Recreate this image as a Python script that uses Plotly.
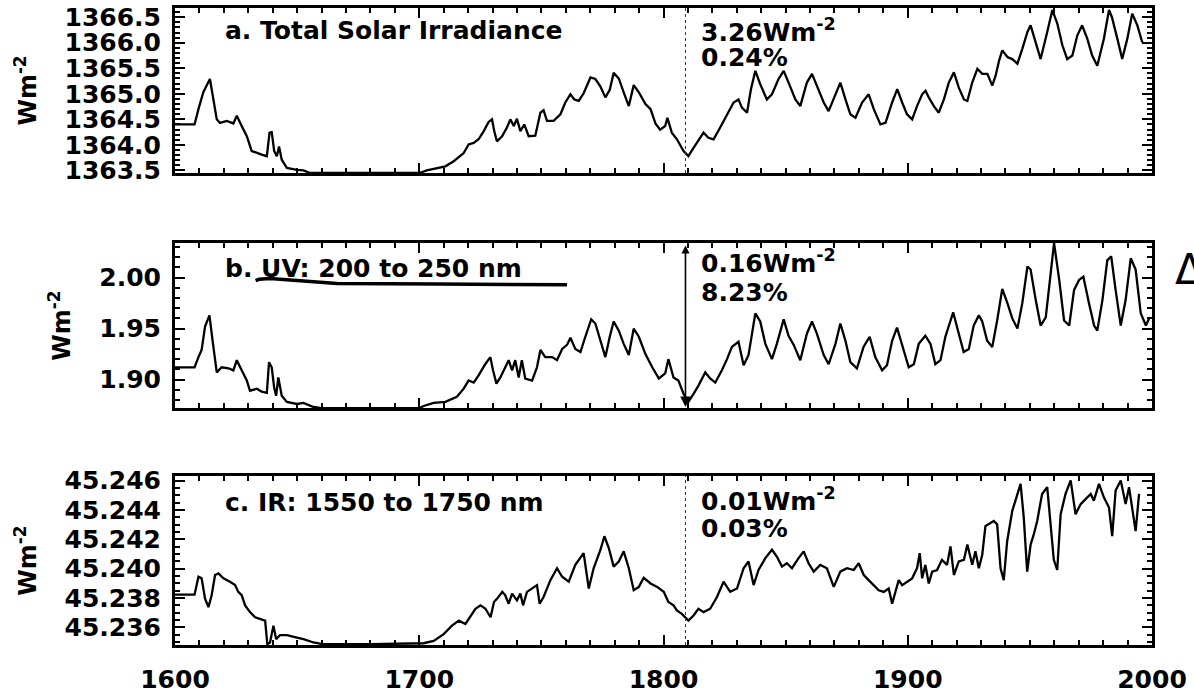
import plotly.graph_objects as go

# ---------------- data ----------------
years_a = [1600, 1608, 1609.6, 1611.6, 1614.3, 1615.7, 1617.1, 1618.4, 1621.2, 1623.9, 1625.3, 1627.3,
           1629.4, 1631.4, 1633.5, 1635.5, 1637.6, 1638.7, 1639.6, 1640.6, 1641.7, 1642.6, 1643.7, 1645.8,
           1649.9, 1652.6, 1655.3, 1660, 1680, 1700, 1703.1, 1707.2, 1710.7, 1714.1, 1718.2, 1720.2,
           1722.3, 1724.3, 1726.4, 1728.4, 1729.8, 1730.7, 1731.8, 1733.9, 1735.9, 1737.3, 1738.7, 1740.0,
           1741.4, 1743.0, 1744.8, 1747.5, 1749.6, 1750.9, 1752.3, 1755.0, 1757.8, 1759.8, 1761.9, 1763.5,
           1765.3, 1767.3, 1770.1, 1772.1, 1774.2, 1776.2, 1778.0, 1779.6, 1781.7, 1783.7, 1785.8, 1787.8,
           1789.9, 1792.6, 1794.7, 1796.7, 1798.6, 1800.7, 1801.6, 1803.4, 1805.5, 1808.2, 1810.2, 1812.3,
           1816.4, 1818.4, 1820.5, 1823.2, 1826.0, 1828.7, 1830.7, 1832.1, 1834.2, 1835.8, 1837.6, 1839.6,
           1842.3, 1844.4, 1847.1, 1849.2, 1851.2, 1854.0, 1856.0, 1858.7, 1860.8, 1862.8, 1865.6, 1867.6,
           1869.7, 1872.4, 1874.5, 1876.5, 1878.6, 1881.3, 1884.0, 1886.1, 1888.8, 1890.9, 1893.6, 1895.7,
           1897.7, 1899.7, 1901.8, 1903.8, 1905.9, 1907.3, 1908.6, 1910.7, 1912.7, 1914.8, 1916.8, 1918.9,
           1920.9, 1923.0, 1924.4, 1926.4, 1928.5, 1930.5, 1932.6, 1934.6, 1936.0, 1937.4, 1938.7, 1940.8,
           1942.8, 1944.9, 1946.9, 1949.0, 1950.3, 1952.4, 1954.4, 1957.1, 1959.2, 1961.2, 1963.3, 1965.3,
           1967.4, 1969.4, 1971.4, 1973.5, 1975.5, 1977.6, 1980.3, 1982.4, 1983.6, 1985.8, 1987.8, 1989.9,
           1991.9, 1994.0, 1996.0]
tsi = [1364.40, 1364.40, 1364.70, 1365.03, 1365.29, 1364.89, 1364.50, 1364.43, 1364.47, 1364.42, 1364.57, 1364.37,
       1364.17, 1363.88, 1363.84, 1363.81, 1363.78, 1364.24, 1364.25, 1363.88, 1363.78, 1363.97, 1363.71, 1363.55,
       1363.51, 1363.50, 1363.45, 1363.45, 1363.45, 1363.45, 1363.50, 1363.55, 1363.58, 1363.68, 1363.84, 1364.01,
       1364.04, 1364.11, 1364.27, 1364.45, 1364.50, 1364.27, 1364.07, 1364.17, 1364.34, 1364.50, 1364.37, 1364.51,
       1364.27, 1364.40, 1364.17, 1364.18, 1364.63, 1364.68, 1364.47, 1364.47, 1364.60, 1364.83, 1364.99, 1364.89,
       1364.86, 1365.01, 1365.32, 1365.29, 1365.14, 1364.93, 1365.08, 1365.41, 1365.30, 1365.03, 1364.76, 1365.17,
       1365.03, 1364.80, 1364.70, 1364.42, 1364.30, 1364.37, 1364.53, 1364.24, 1364.11, 1363.88, 1363.78, 1363.94,
       1364.24, 1364.14, 1364.11, 1364.34, 1364.60, 1364.83, 1364.89, 1364.73, 1364.63, 1365.09, 1365.45, 1365.19,
       1364.89, 1364.99, 1365.29, 1365.45, 1365.22, 1364.89, 1364.76, 1365.22, 1365.39, 1365.16, 1364.83, 1364.66,
       1364.89, 1365.22, 1364.89, 1364.60, 1364.53, 1364.83, 1364.99, 1364.70, 1364.40, 1364.43, 1364.83, 1365.09,
       1364.83, 1364.60, 1364.50, 1364.76, 1364.99, 1365.06, 1364.93, 1364.76, 1364.63, 1364.89, 1365.22, 1365.42,
       1365.12, 1364.89, 1364.86, 1365.22, 1365.49, 1365.39, 1365.39, 1365.16, 1365.36, 1365.65, 1365.85, 1365.72,
       1365.68, 1365.59, 1365.88, 1366.21, 1366.34, 1366.01, 1365.68, 1366.21, 1366.64, 1366.38, 1365.95, 1365.68,
       1365.75, 1366.14, 1366.34, 1366.08, 1365.75, 1365.55, 1366.08, 1366.64, 1366.50, 1366.08, 1365.68, 1366.08,
       1366.57, 1366.34, 1366.01]

years_b = [1600, 1608, 1609.6, 1610.9, 1612.3, 1614.1, 1615.4, 1617.1, 1619.1, 1621.9, 1623.9, 1625.3, 1627.3,
           1629.4, 1630.7, 1633.5, 1635.5, 1637.6, 1638.5, 1639.6, 1640.6, 1641.4, 1642.3, 1643.7, 1645.8,
           1649.9, 1652.6, 1656.7, 1660, 1680, 1700, 1701.8, 1705.9, 1710.7, 1715.4, 1718.2, 1720.2, 1722.3,
           1724.3, 1727.0, 1729.1, 1730.2, 1731.6, 1733.2, 1735.2, 1736.6, 1738.0, 1739.3, 1740.7, 1742.0,
           1743.4, 1746.2, 1748.2, 1749.6, 1751.6, 1754.4, 1756.4, 1758.5, 1760.5, 1761.9, 1763.9, 1766.0,
           1768.0, 1770.4, 1772.1, 1774.2, 1776.2, 1778.0, 1779.6, 1781.7, 1783.7, 1785.8, 1787.8, 1789.9,
           1792.6, 1795.4, 1798.1, 1800.7, 1802.0, 1804.1, 1806.1, 1808.2, 1810.2, 1812.3, 1814.3, 1817.1,
           1819.1, 1821.2, 1823.9, 1826.0, 1828.0, 1830.7, 1832.8, 1834.8, 1837.6, 1839.6, 1841.7, 1844.4,
           1846.4, 1849.2, 1851.2, 1853.3, 1856.0, 1858.7, 1860.8, 1862.8, 1865.6, 1867.6, 1870.4, 1872.4,
           1874.5, 1876.5, 1879.2, 1881.9, 1884.4, 1886.7, 1889.5, 1891.5, 1893.6, 1895.6, 1897.7, 1900.4,
           1902.5, 1904.5, 1907.2, 1909.3, 1911.3, 1913.4, 1915.4, 1918.6, 1920.9, 1922.9, 1925.0, 1927.0,
           1929.1, 1930.5, 1932.5, 1934.6, 1936.6, 1938.7, 1940.8, 1942.8, 1944.9, 1946.9, 1949.0, 1950.3,
           1952.4, 1954.4, 1956.5, 1958.6, 1959.9, 1962.0, 1964.0, 1966.1, 1968.1, 1970.2, 1971.9, 1974.2,
           1976.3, 1977.6, 1979.7, 1981.7, 1983.3, 1985.1, 1987.2, 1989.2, 1991.3, 1993.3, 1995.4, 1997.5,
           1998.8]
uv = [1.912, 1.912, 1.922, 1.929, 1.952, 1.963, 1.938, 1.907, 1.912, 1.911, 1.909, 1.919, 1.909,
      1.899, 1.889, 1.891, 1.888, 1.887, 1.917, 1.912, 1.892, 1.884, 1.902, 1.884, 1.878,
      1.876, 1.877, 1.873, 1.872, 1.872, 1.872, 1.874, 1.877, 1.878, 1.883, 1.891, 1.899, 1.897,
      1.904, 1.915, 1.922, 1.909, 1.896, 1.902, 1.912, 1.919, 1.909, 1.919, 1.902, 1.919,
      1.901, 1.899, 1.912, 1.929, 1.922, 1.922, 1.919, 1.930, 1.934, 1.941, 1.930, 1.927,
      1.942, 1.959, 1.955, 1.938, 1.922, 1.942, 1.957, 1.948, 1.935, 1.924, 1.950, 1.942,
      1.925, 1.912, 1.901, 1.906, 1.920, 1.902, 1.899, 1.886, 1.878, 1.886, 1.894, 1.907,
      1.901, 1.897, 1.909, 1.920, 1.932, 1.937, 1.914, 1.924, 1.965, 1.957, 1.935, 1.920,
      1.935, 1.959, 1.943, 1.934, 1.919, 1.945, 1.957, 1.945, 1.924, 1.915, 1.935, 1.955,
      1.938, 1.917, 1.911, 1.932, 1.942, 1.922, 1.909, 1.914, 1.938, 1.951, 1.934, 1.912,
      1.915, 1.935, 1.943, 1.935, 1.915, 1.919, 1.942, 1.966, 1.945, 1.927, 1.930, 1.953,
      1.963, 1.957, 1.938, 1.932, 1.958, 1.989, 1.975, 1.960, 1.950, 1.975, 2.011, 2.008,
      1.978, 1.953, 1.961, 2.008, 2.034, 1.998, 1.958, 1.953, 1.988, 1.998, 2.001, 1.975,
      1.953, 1.948, 1.978, 2.017, 2.021, 1.988, 1.953, 1.978, 2.019, 2.008, 1.965, 1.953,
      1.960]

years_c = [1600, 1608, 1609.6, 1610.9, 1612.3, 1613.7, 1615.0, 1616.4, 1617.8, 1619.8, 1622.5, 1624.6,
           1625.9, 1627.3, 1628.7, 1630.7, 1632.8, 1634.8, 1636.9, 1637.8, 1638.9, 1640.3, 1641.4, 1643.0,
           1645.8, 1649.9, 1652.6, 1656.7, 1660.8, 1680, 1693.6, 1701.8, 1705.9, 1710.0, 1713.4, 1716.2,
           1718.9, 1721.0, 1723.0, 1725.1, 1727.1, 1729.2, 1730.6, 1731.9, 1734.0, 1735.2, 1736.6, 1738.0,
           1740.0, 1741.4, 1742.5, 1744.1, 1746.2, 1748.2, 1749.3, 1750.9, 1753.7, 1756.4, 1758.5, 1761.2,
           1763.9, 1767.3, 1769.4, 1771.4, 1774.2, 1775.8, 1777.6, 1779.6, 1781.7, 1783.7, 1785.8, 1787.8,
           1789.9, 1791.9, 1794.7, 1797.4, 1800.1, 1802.0, 1804.1, 1805.5, 1807.5, 1810.2, 1812.3, 1814.3,
           1816.4, 1819.1, 1821.9, 1824.6, 1827.3, 1830.1, 1832.8, 1834.8, 1836.9, 1838.9, 1841.7, 1844.4,
           1846.4, 1848.5, 1850.5, 1852.6, 1855.3, 1857.4, 1859.4, 1861.5, 1864.2, 1866.9, 1869.7, 1872.4,
           1875.1, 1877.9, 1879.9, 1882.0, 1884.0, 1886.1, 1888.1, 1890.2, 1892.2, 1893.6, 1894.9, 1896.3,
           1897.7, 1899.7, 1901.8, 1903.8, 1904.9, 1905.9, 1907.2, 1908.6, 1910.0, 1912.0, 1914.0, 1916.1,
           1917.5, 1918.9, 1920.9, 1923.0, 1924.4, 1926.4, 1927.7, 1929.1, 1930.5, 1931.8, 1933.9, 1935.2,
           1936.6, 1938.0, 1939.3, 1940.7, 1942.8, 1944.8, 1946.2, 1947.5, 1948.9, 1950.3, 1951.6, 1953.0,
           1955.0, 1957.1, 1958.5, 1959.8, 1961.2, 1962.6, 1964.6, 1966.7, 1968.7, 1970.8, 1972.8, 1974.9,
           1976.2, 1978.3, 1980.3, 1982.4, 1983.7, 1985.1, 1987.2, 1989.2, 1990.6, 1991.9, 1993.3, 1994.7]
ir = [45.23823, 45.23823, 45.23945, 45.23934, 45.23796, 45.23738, 45.23819, 45.23957, 45.23968, 45.23934,
      45.23911, 45.23888, 45.23842, 45.23819, 45.23750, 45.23704, 45.23669, 45.23658, 45.23646, 45.23485,
      45.23497, 45.23612, 45.23520, 45.23547, 45.23547, 45.23531, 45.23520, 45.23497, 45.23485, 45.23485,
      45.23490, 45.23492, 45.23508, 45.23554, 45.23612, 45.23646, 45.23623, 45.23681, 45.23727, 45.23750,
      45.23727, 45.23669, 45.23773, 45.23796, 45.23842, 45.23819, 45.23761, 45.23830, 45.23784, 45.23830,
      45.23750, 45.23842, 45.23865, 45.23888, 45.23761, 45.23807, 45.23922, 45.24003, 45.23945, 45.23911,
      45.24026, 45.24106, 45.23865, 45.24003, 45.24129, 45.24221, 45.24141, 45.24014, 45.24049, 45.24118,
      45.24003, 45.23853, 45.23876, 45.23938, 45.23899, 45.23876, 45.23842, 45.23773, 45.23750, 45.23715,
      45.23692, 45.23646, 45.23681, 45.23727, 45.23704, 45.23727, 45.23807, 45.23911, 45.23842, 45.23865,
      45.24003, 45.24049, 45.23888, 45.23991, 45.24072, 45.24129, 45.24083, 45.24014, 45.24037, 45.24003,
      45.24072, 45.24118, 45.24037, 45.23980, 45.24026, 45.24003, 45.23876, 45.23980, 45.24003, 45.23991,
      45.24037, 45.23957, 45.23922, 45.23888, 45.23853, 45.23842, 45.23865, 45.23761, 45.23842, 45.23922,
      45.23888, 45.23911, 45.23934, 45.24003, 45.24106, 45.23934, 45.24026, 45.23899, 45.23980, 45.23991,
      45.24060, 45.24026, 45.24152, 45.23957, 45.24049, 45.24060, 45.24164, 45.24026, 45.24118, 45.24003,
      45.24095, 45.24290, 45.24313, 45.24325, 45.24302, 45.24003, 45.23922, 45.24187, 45.24394, 45.24509,
      45.24578, 45.24348, 45.23980, 45.24164, 45.24233, 45.24325, 45.24509, 45.24555, 45.24279, 45.24060,
      45.23991, 45.24371, 45.24509, 45.24601, 45.24371, 45.24440, 45.24474, 45.24509, 45.24463, 45.24578,
      45.24486, 45.24417, 45.24221, 45.24532, 45.24601, 45.24440, 45.24555, 45.24417, 45.24256, 45.24509]

x_ticks = [1600, 1700, 1800, 1900, 2000]
min_year = 1809
panel_labels = ["a. Total Solar Irradiance", "b. UV: 200 to 250 nm", "c. IR: 1550 to 1750 nm"]
change_abs = ["3.26Wm<sup>-2</sup>", "0.16Wm<sup>-2</sup>", "0.01Wm<sup>-2</sup>"]
change_pct = ["0.24%", "8.23%", "0.03%"]
y_ranges = [[1363.45, 1366.68], [1.872, 2.034], [45.2348, 45.2463]]
y_dtick = [0.5, 0.05, 0.002]
y_tick0 = [1363.5, 1.90, 45.236]
y_minor = [0.1, 0.01, 0.0005]
y_fmt = [".1f", ".2f", ".3f"]
# handwritten underline under panel b's title
scribble_x = [1633.0, 1634.5, 1638.9, 1666.3, 1707.2, 1760.5]
scribble_y = [1.9970, 1.9985, 1.9993, 1.9944, 1.9938, 1.9930]

FONT = "DejaVu Sans"
TXT = dict(family=FONT, size=25, color="black", weight="bold")
fig = go.Figure()

series = [(years_a, tsi), (years_b, uv), (years_c, ir)]
domains = [[0.741, 1.0], [0.372, 0.631], [0.0, 0.265]]
for i, (xs, ys) in enumerate(series):
    sfx = "" if i == 0 else str(i + 1)
    fig.add_trace(go.Scatter(x=xs, y=ys, mode="lines", line=dict(color="black", width=2.3),
                             xaxis="x" + sfx, yaxis="y" + sfx, showlegend=False, hoverinfo="skip"))

axis_common = dict(showline=True, linewidth=3, linecolor="black", mirror="ticks", ticks="inside",
                   tickwidth=2, tickcolor="black", showgrid=False, zeroline=False, automargin=False,
                   tickfont=dict(family=FONT, size=25, color="black", weight="bold"))
layout = dict()
for i in range(3):
    sfx = "" if i == 0 else str(i + 1)
    layout["xaxis" + sfx] = dict(axis_common, range=[1600, 2000], tickvals=x_ticks, ticklen=10,
                                 minor=dict(dtick=10, tick0=1600, ticks="inside", ticklen=5, tickwidth=1.5,
                                            tickcolor="black"),
                                 showticklabels=(i == 2), domain=[0, 1], anchor="y" + sfx,
                                 ticklabelstandoff=10)
    layout["yaxis" + sfx] = dict(axis_common, range=y_ranges[i], dtick=y_dtick[i], tick0=y_tick0[i],
                                 tickformat=y_fmt[i], ticklen=10, domain=domains[i], anchor="x" + sfx,
                                 minor=dict(dtick=y_minor[i], tick0=y_tick0[i], ticks="inside", ticklen=5,
                                            tickwidth=1.5, tickcolor="black"),
                                 ticklabelstandoff=6,
                                 title=dict(text="Wm<sup>-2</sup>",
                                            font=dict(family=FONT, size=24, color="black", weight="bold"),
                                            standoff=22))

annotations = []
label_y = [1366.24, 2.0092, 45.24451]
abs_y = [1366.23, 2.0158, 45.24469]
pct_y = [1365.72, 1.9852, 45.24274]
for i in range(3):
    sfx = "" if i == 0 else str(i + 1)
    annotations.append(dict(x=1619.8, y=label_y[i], xref="x" + sfx, yref="y" + sfx, text=panel_labels[i],
                            showarrow=False, xanchor="left", yanchor="middle", font=TXT))
    annotations.append(dict(x=1814.5, y=abs_y[i], xref="x" + sfx, yref="y" + sfx, text=change_abs[i],
                            showarrow=False, xanchor="left", yanchor="middle", font=TXT))
    annotations.append(dict(x=1814.5, y=pct_y[i], xref="x" + sfx, yref="y" + sfx, text=change_pct[i],
                            showarrow=False, xanchor="left", yanchor="middle", font=TXT))
# double-headed arrow in panel b
annotations.append(dict(x=min_year, y=y_ranges[1][0] + 0.001, ax=min_year, ay=y_ranges[1][1] - 0.001,
                        xref="x2", yref="y2", axref="x2", ayref="y2", text="", showarrow=True,
                        arrowhead=2, startarrowhead=2, arrowside="end+start", arrowsize=1.3,
                        arrowwidth=1.6, arrowcolor="black", startarrowsize=1.0))
# handwritten delta at the right edge
annotations.append(dict(x=1.022, y=0.59, xref="paper", yref="paper", text="Δ", showarrow=False,
                        xanchor="left", yanchor="middle", font=dict(family=FONT, size=42, color="black")))

shapes = []
for ref in ["", "3"]:
    shapes.append(dict(type="line", xref="x" + ref, yref=("y" + ref) + " domain", x0=min_year, x1=min_year,
                       y0=0, y1=1, line=dict(color="#333333", width=1, dash="dot")))
path = "M " + " L ".join(f"{x},{y}" for x, y in zip(scribble_x, scribble_y))
shapes.append(dict(type="path", xref="x2", yref="y2", path=path, line=dict(color="black", width=3.5)))

fig.update_layout(**layout)
fig.update_layout(width=1194, height=700, margin=dict(l=175, r=42, t=8, b=55, autoexpand=False),
                  paper_bgcolor="white", plot_bgcolor="white", annotations=annotations, shapes=shapes,
                  font=dict(family=FONT, color="black"))

# remove the default page margin so the figure sits at the window's top-left corner
fig.write_html("out.html", config={"displayModeBar": False},
               post_script="document.body.style.margin='0';document.body.style.padding='0';"
                           "document.body.style.overflow='hidden';")
